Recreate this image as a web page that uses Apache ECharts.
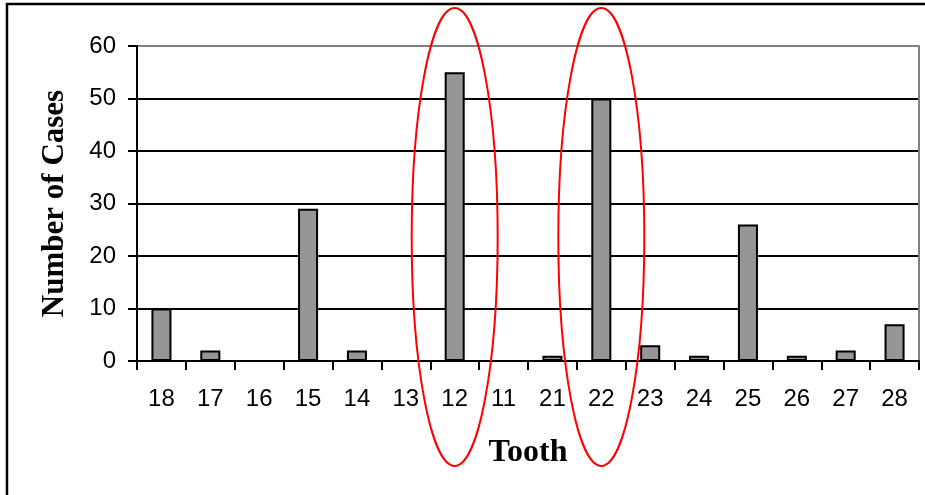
<!DOCTYPE html>
<html>
<head>
<meta charset="utf-8">
<script src="https://cdn.jsdelivr.net/npm/echarts@6/dist/echarts.min.js"></script>
<style>
  html, body { margin: 0; padding: 0; background: #fff; }
  #chart { width: 925px; height: 495px; }
</style>
</head>
<body>
<div id="chart"></div>
<script>
// tooth numbers, in the order shown on the x axis
var teeth = ['18', '17', '16', '15', '14', '13', '12', '11', '21', '22', '23', '24', '25', '26', '27', '28'];
// number of cases for each tooth
var cases = [10, 2, 0, 29, 2, 0, 55, 0, 1, 50, 3, 1, 26, 1, 2, 7];
// teeth circled in red
var circled = ['12', '22'];

var chart = echarts.init(document.getElementById('chart'));

var option = {
    animation: false,
    grid: { left: 137, right: 6, top: 46, bottom: 134 },
    xAxis: {
        type: 'category',
        data: teeth,
        name: 'Tooth',
        nameLocation: 'middle',
        nameGap: 76,
        nameTextStyle: { fontFamily: 'Liberation Serif', fontWeight: 'bold', fontSize: 32, color: '#000' },
        axisLine: { lineStyle: { color: '#000', width: 2 } },
        axisTick: { show: true, length: 9, lineStyle: { color: '#000', width: 2 } },
        axisLabel: { interval: 0, margin: 26, fontFamily: 'Liberation Sans', fontSize: 24, color: '#000' }
    },
    yAxis: [{
        type: 'value',
        min: 0,
        max: 60,
        interval: 10,
        name: 'Number of Cases',
        nameLocation: 'middle',
        nameGap: 67,
        nameTextStyle: { fontFamily: 'Liberation Serif', fontWeight: 'bold', fontSize: 31, color: '#000' },
        axisLine: { show: true, lineStyle: { color: '#000', width: 2 } },
        axisTick: { show: true, length: 9, lineStyle: { color: '#000', width: 2 } },
        axisLabel: { margin: 21, fontFamily: 'Liberation Sans', fontSize: 24, color: '#000' },
        splitLine: { show: true, lineStyle: { color: ['#000', '#000', '#000', '#000', '#000', '#000', '#808080'], width: 2 } }
    }, {
        type: 'value',
        position: 'right',
        min: 0,
        max: 60,
        axisLine: { show: true, lineStyle: { color: '#808080', width: 2 } },
        axisTick: { show: false },
        axisLabel: { show: false },
        splitLine: { show: false }
    }],
    series: [{
        type: 'bar',
        data: cases,
        barWidth: '41%',
        itemStyle: { color: '#969696', borderColor: '#000', borderWidth: 2 }
    }]
};

chart.setOption(option);

// outer frame and red ellipses around the circled teeth
var graphics = [{
    type: 'rect',
    shape: { x: 7, y: 4, width: 1000, height: 600 },
    style: { fill: 'none', stroke: '#000', lineWidth: 2.5 },
    silent: true,
    z: 10
}];
circled.forEach(function (t) {
    var cx = chart.convertToPixel({ xAxisIndex: 0 }, t);
    graphics.push({
        type: 'ellipse',
        shape: { cx: cx, cy: 237, rx: 43, ry: 229 },
        style: { fill: 'none', stroke: '#ff0000', lineWidth: 2 },
        silent: true,
        z: 20
    });
});
chart.setOption({ graphic: graphics });
</script>
</body>
</html>
